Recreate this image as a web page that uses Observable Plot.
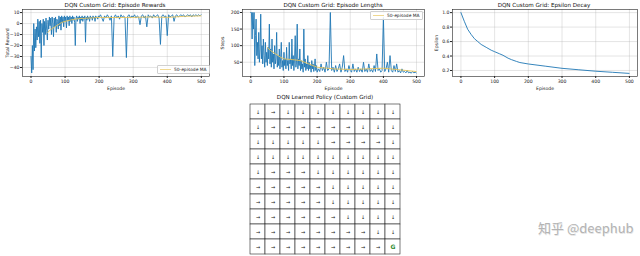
<!DOCTYPE html>
<html><head><meta charset="utf-8">
<script src="https://cdn.jsdelivr.net/npm/d3@7"></script>
<script src="https://cdn.jsdelivr.net/npm/@observablehq/plot@0.6"></script>
<style>
body{margin:0;background:#fff;}
#root{position:relative;width:640px;height:256px;overflow:hidden;font-family:"DejaVu Sans",sans-serif;background:#fff;}
.title{position:absolute;font-size:5.6px;color:#111;white-space:nowrap;transform:translateX(-50%);line-height:1;}
.legend{position:absolute;border:0.6px solid #d0d0d0;border-radius:1px;background:rgba(255,255,255,0.85);font-size:4.4px;display:flex;align-items:center;padding:1.5px 2px;color:#222;line-height:1;white-space:nowrap;}
.sw{display:inline-block;width:11px;height:0;border-top:1.2px solid #f0d890;margin-right:3px;}
.wm{position:absolute;font-family:"Noto Sans CJK SC",sans-serif;font-size:13px;color:#b4b4b4;white-space:nowrap;text-shadow:0.5px 0.5px 0 #e6e6e6;}
</style></head>
<body><div id="root"></div>
<script>
// ---------- data ----------
const xTicks = [0, 100, 200, 300, 400, 500];

const rewardEpisodes = [0,2,4,6,8,10,12,14,16,18,20,22,24,26,28,30,32,34,36,38,40,42,44,46,48,50,52,54,56,58,60,62,64,66,68,70,72,74,76,78,80,82,84,86,88,90,92,94,96,98,100,102,104,106,108,110,112,114,116,118,120,122,124,126,128,130,132,134,136,138,140,142,144,146,148,150,152,154,156,158,160,162,164,166,168,170,172,174,176,178,180,182,184,186,188,190,192,194,196,198,
200,204,208,212,216,220,224,228,232,236,240,244,248,252,256,260,264,268,272,276,280,284,288,292,296,300,304,308,312,316,320,324,328,332,336,340,344,348,352,356,360,364,368,372,376,380,384,388,392,396,400,404,408,412,416,420,424,428,432,436,440,444,448,452,456,460,464,468,472,476,480,484,488,492,496,499];
const rewardValues = [-30,-45,-20,-42,0,-25,-5,-22,-3,-15,4,-12,2,-18,3,-31,0,-8,4,-20,2,-10,5,-6,-15,3,-5,6,-2,5,-10,6,0,-12,5,-3,6,-8,4,2,-5,7,-2,6,-6,7,1,6,-3,7,2,6,-4,7,3,6,-2,7,2,6,0,7,3,6,1,-20,5,7,2,6,4,7,0,6,3,7,2,6,4,7,-17,6,3,7,4,6,2,7,5,6,3,7,5,6,2,7,5,6,4,7,
6,8,5,2,7,5,8,6,3,7,-30,6,8,5,7,4,8,6,7,5,-31,7,8,5,7,6,8,5,7,6,-1,7,8,5,7,-3,8,6,7,5,8,6,7,8,5,-19,7,8,6,7,-11,8,6,7,8,2,7,8,6,7,8,7,8,6,7,8,7,8,6,8,7,8,7,8,7,8];
const rewardMAEpisodes = [49,60,70,80,90,100,120,140,160,180,200,250,300,350,400,450,499];
const rewardMAValues = [-8,-5,-3,-1,1,2,3.5,4.5,4.8,5.2,5.6,5.5,5.6,6,5.6,6.6,7];

const lengthEpisodes = [0,2,4,6,8,10,12,14,16,18,20,22,24,26,28,30,32,34,36,38,40,42,44,46,48,50,52,54,56,58,60,62,64,66,68,70,72,74,76,78,80,82,84,86,88,90,92,94,96,98,100,102,104,106,108,110,112,114,116,118,120,122,124,126,128,130,132,134,136,138,140,142,144,146,148,150,152,154,156,158,160,162,164,166,168,170,172,174,176,178,180,182,184,186,188,190,192,194,196,198,
200,204,208,212,216,220,224,228,232,236,240,244,248,252,256,260,264,268,272,276,280,284,288,292,296,300,304,308,312,316,320,324,328,332,336,340,344,348,352,356,360,364,368,372,376,380,384,388,392,396,400,404,408,412,416,420,424,428,432,436,440,444,448,452,456,460,464,468,472,476,480,484,488,492,496,499];
const lengthValues = [200,200,120,200,150,200,40,130,180,70,110,60,140,50,90,195,60,100,45,120,70,35,110,50,80,40,95,60,165,45,90,35,120,50,75,30,100,45,60,140,35,70,40,90,30,60,110,35,55,25,80,40,60,30,95,40,55,25,110,45,60,30,120,40,70,25,60,130,35,50,165,30,60,40,90,25,55,30,45,20,150,35,60,25,45,30,70,25,50,30,40,20,55,30,45,22,35,60,25,40,
20,30,22,45,25,35,20,50,25,30,200,25,35,20,40,22,30,45,20,35,70,22,30,20,40,25,20,45,22,30,20,35,22,30,20,50,22,30,20,45,22,28,20,40,22,75,25,30,20,25,185,22,30,50,20,70,25,20,40,22,45,20,25,18,30,20,22,18,25,18,20,17,22,18,20,18];
const lengthMAEpisodes = [49,60,75,90,100,125,150,175,200,250,300,350,400,450,499];
const lengthMAValues = [95,85,75,65,60,58,55,45,35,30,28,30,32,27,22];

const epsilonEpisodes = [0,10,20,30,40,50,60,75,90,100,115,125,140,150,165,175,200,250,300,350,400,450,499];
const epsilonValues = [1.0,0.88,0.77,0.7,0.64,0.6,0.56,0.52,0.48,0.46,0.43,0.41,0.37,0.35,0.325,0.31,0.29,0.26,0.23,0.21,0.19,0.175,0.16];

const policyRows = [
  "↓→↓↓↓↓↓↓↓↓",
  "↓→→→→→→↓↓↓",
  "↓↓↓↓↓→→→→↓",
  "↓↓↓↓↓↓↓↓↓↓",
  "↓→→→↓↓↓↓↓↓",
  "→→→→→↓↓↓↓↓",
  "→→→→→↓↓↓↓↓",
  "→→→→→→↓↓↓↓",
  "→→→→→→→→↓↓",
  "→→→→→→→→→G"
];

const titles = ["DQN Custom Grid: Episode Rewards", "DQN Custom Grid: Episode Lengths", "DQN Custom Grid: Epsilon Decay", "DQN Learned Policy (Custom Grid)"];

// ---------- drawing ----------
const root = document.getElementById("root");
const BLUE = "#1f77b4";
const MA = "#e6c35a";

function place(el, left, top) {
  el.style.position = "absolute";
  el.style.left = left + "px";
  el.style.top = top + "px";
  root.appendChild(el);
}
function addTitle(text, cx, top) {
  const d = document.createElement("div");
  d.className = "title"; d.textContent = text;
  d.style.left = cx + "px"; d.style.top = top + "px";
  root.appendChild(d);
}
function addLegend(left, top) {
  const d = document.createElement("div");
  d.className = "legend";
  d.innerHTML = '<span class="sw"></span>50-episode MA';
  d.style.left = left + "px"; d.style.top = top + "px";
  root.appendChild(d);
}

function panel(o) {
  const marks = [
    Plot.gridX(xTicks, {stroke: "#b0b0b0", strokeOpacity: 0.55, strokeWidth: 0.6}),
    Plot.gridY(o.yTicks, {stroke: "#b0b0b0", strokeOpacity: 0.55, strokeWidth: 0.6})
  ];
  for (const s of o.series) {
    marks.push(Plot.line(s.y, {x: s.x, y: s.y, stroke: s.stroke, strokeWidth: s.w, strokeOpacity: s.op ?? 1, clip: true}));
  }
  marks.push(
    Plot.axisX(xTicks, {label: "Episode", labelAnchor: "center", labelOffset: 13, labelArrow: "none", tickSize: 2, tickPadding: 1}),
    Plot.axisY(o.yTicks, {label: o.ylabel, labelAnchor: "center", labelOffset: o.labelOffset, labelArrow: "none", tickSize: 2, tickPadding: 1, tickFormat: o.fmt}),
    Plot.frame({stroke: "#222", strokeWidth: 0.6})
  );
  const svg = Plot.plot({
    width: o.width, height: 95,
    marginLeft: o.ml, marginRight: o.mr, marginTop: 9, marginBottom: 19,
    x: {domain: [-25, 524]},
    y: {domain: o.yDomain},
    style: {fontSize: "4.6px", fontFamily: "DejaVu Sans", color: "#222", background: "transparent", overflow: "visible"},
    marks
  });
  place(svg, o.left, 0);
}

panel({
  left: 0, width: 215, ml: 22, mr: 6,
  yDomain: [-48.2, 12.8], yTicks: [-40, -30, -20, -10, 0, 10], ylabel: "Total Reward", labelOffset: 17,
  series: [
    {x: rewardEpisodes, y: rewardValues, stroke: BLUE, w: 0.9},
    {x: rewardMAEpisodes, y: rewardMAValues, stroke: MA, w: 1, op: 0.9}
  ]
});
panel({
  left: 215, width: 215, ml: 27, mr: 6,
  yDomain: [7, 209], yTicks: [50, 100, 150, 200], ylabel: "Steps", labelOffset: 22,
  series: [
    {x: lengthEpisodes, y: lengthValues, stroke: BLUE, w: 0.9},
    {x: lengthMAEpisodes, y: lengthMAValues, stroke: MA, w: 1, op: 0.9}
  ]
});
panel({
  left: 430, width: 210, ml: 22, mr: 3,
  yDomain: [0.117, 1.043], yTicks: [0.2, 0.4, 0.6, 0.8, 1.0], ylabel: "Epsilon", labelOffset: 18, fmt: d3.format(".1f"),
  series: [
    {x: epsilonEpisodes, y: epsilonValues, stroke: BLUE, w: 0.9}
  ]
});

addTitle(titles[0], 115, 3);
addTitle(titles[1], 333, 3);
addTitle(titles[2], 544, 3);
addLegend(157, 65);
addLegend(370, 11);

// policy grid
const cells = [];
policyRows.forEach((row, r) => Array.from(row).forEach((ch, c) => cells.push({row: r, col: c, ch})));
const grid = Plot.plot({
  width: 156, height: 153, margin: 1,
  x: {type: "band", domain: d3.range(10), padding: 0, axis: null},
  y: {type: "band", domain: d3.range(10), padding: 0, axis: null},
  style: {fontFamily: "DejaVu Sans", background: "transparent", overflow: "visible"},
  marks: [
    Plot.cell(cells, {x: "col", y: "row", fill: "white", stroke: "#222", strokeWidth: 0.6}),
    Plot.text(cells.filter(d => d.ch !== "G"), {x: "col", y: "row", text: d => d.ch + "\uFE0E", fontSize: 5, fill: "#111", fontFamily: "DejaVu Sans"}),
    Plot.text(cells.filter(d => d.ch === "G"), {x: "col", y: "row", text: "ch", fontSize: 6, fontWeight: "bold", fill: "#2e8b2e", fontFamily: "DejaVu Sans"})
  ]
});
place(grid, 247, 102);
addTitle(titles[3], 325, 95);

const wm = document.createElement("div");
wm.className = "wm"; wm.textContent = "知乎 @deephub";
wm.style.left = "538px"; wm.style.top = "218px";
root.appendChild(wm);
</script>
</body></html>
